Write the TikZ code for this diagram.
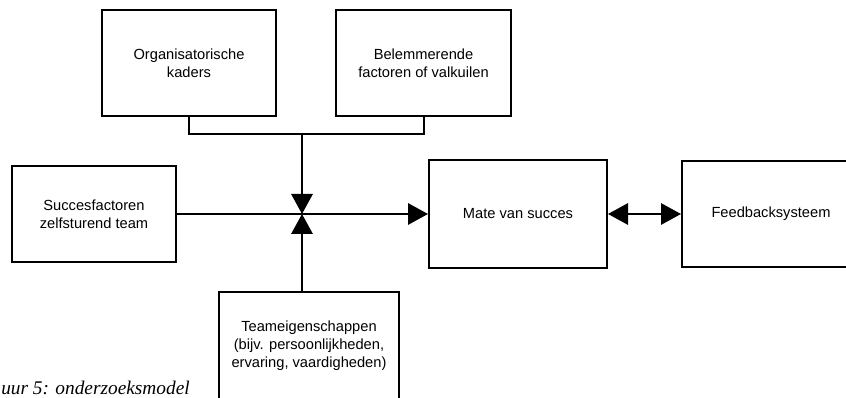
\documentclass[tikz,border=0pt]{standalone}
\usepackage{fontspec}
\setmainfont{Liberation Sans}
\newfontfamily\capfont{Liberation Serif}
\usetikzlibrary{arrows.meta}

\tikzset{
  blok/.style={draw=black, line width=1.5pt, align=center, inner sep=0pt,
    font=\fontsize{11}{13.5}\selectfont},
  pijl/.style={line width=1.5pt, -{Triangle[length=15pt,width=16pt]}},
  dubbelpijl/.style={line width=1.5pt, {Triangle[length=15pt,width=16pt]}-{Triangle[length=15pt,width=16pt]}},
}

\begin{document}
\begin{tikzpicture}[x=0.75pt,y=-0.75pt]
    \useasboundingbox (0,0) rectangle (846,398);
    \clip (0,0) rectangle (846,398);

    \node[blok, minimum width=130.5pt, minimum height=79.5pt] (org) at (189,63)
        {Organisatorische\\kaders};
    \node[blok, minimum width=131.25pt, minimum height=79.5pt] (bel) at (423.5,63)
        {Belemmerende\\factoren of valkuilen};
    \node[blok, minimum width=123pt, minimum height=72pt] (suc) at (94,214)
        {Succesfactoren\\zelfsturend team};
    \node[blok, minimum width=133.5pt, minimum height=81pt] (mate) at (518,214)
        {Mate van succes};
    \node[blok, minimum width=133.5pt, minimum height=79.5pt] (feed) at (771,214)
        {Feedbacksysteem};
    \node[blok, minimum width=135pt, minimum height=81pt] (team) at (309,346)
        {Teameigenschappen\\(bijv. persoonlijkheden,\\ervaring, vaardigheden)};

    \coordinate (J) at (302,214);
    \coordinate (brk) at (302,134);

    % kaders en valkuilen samen naar het midden
    \draw[line width=1.5pt] (org.south) -- (org.south |- brk) -| (bel.south);
    \draw[pijl] (brk) -- (J);
    \draw[pijl] (team.north -| J) -- (J);
    \draw[pijl] (suc.east) -- (mate.west);
    \draw[dubbelpijl] (mate.east) -- (feed.west);

    \node[anchor=base west, inner sep=0pt,
        font=\capfont\itshape\fontsize{14.5}{16}\selectfont] (bijschrift) at (1,395)
        {uur 5: onderzoeksmodel};
\end{tikzpicture}
\end{document}
